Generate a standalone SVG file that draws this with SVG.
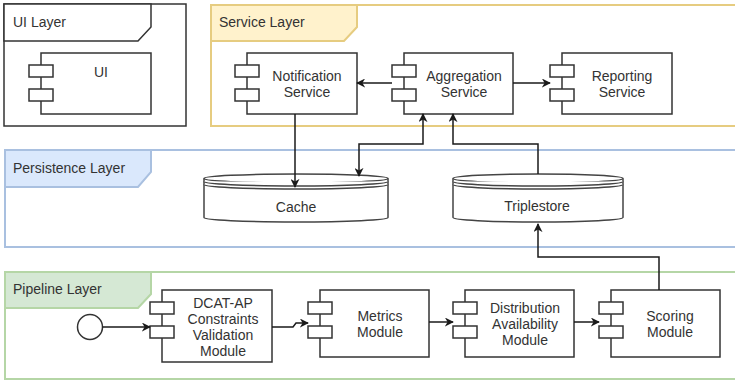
<svg xmlns="http://www.w3.org/2000/svg" width="735" height="380" viewBox="0 0 735 380">
  <style>
    text { font-family: "Liberation Sans", Arial, sans-serif; font-size: 14px; fill: #333333; }
    .mid { text-anchor: middle; }
    .comp { fill: #ffffff; stroke: #333333; stroke-width: 1.5; }
    .store { fill: #ffffff; stroke: #444444; stroke-width: 1.5; }
    .edge { fill: none; stroke: #1a1a1a; stroke-width: 1.5; }
    .ui-frame { fill: #ffffff; stroke: #333333; stroke-width: 1.5; }
    .ui-tab { fill: #ffffff; stroke: #333333; stroke-width: 1.5; }
    .svc-frame { fill: #ffffff; stroke: #e6cc80; stroke-width: 2; }
    .svc-tab { fill: #fff2cc; stroke: #e6cc80; stroke-width: 2; }
    .per-frame { fill: #ffffff; stroke: #a9c0e0; stroke-width: 2; }
    .per-tab { fill: #dae8fc; stroke: #a9c0e0; stroke-width: 2; }
    .pip-frame { fill: #ffffff; stroke: #b5d6a6; stroke-width: 2; }
    .pip-tab { fill: #d5e8d4; stroke: #b5d6a6; stroke-width: 2; }
  </style>
  <defs>
    <marker id="arrow" viewBox="0 0 10 10" refX="9" refY="5" markerWidth="9" markerHeight="9" markerUnits="userSpaceOnUse" orient="auto-start-reverse">
      <path d="M0,0 L10,5 L0,10 L3,5 Z" fill="#1a1a1a"/>
    </marker>
  </defs>

  <rect width="735" height="380" fill="#ffffff"/>

  <!-- layer containers -->
  <g id="ui-layer">
    <rect class="ui-frame" x="4" y="4" width="182" height="122"/>
    <path class="ui-tab" d="M4,4 H151 V27 L138,41 H4 Z"/>
    <text x="13" y="27">UI Layer</text>
  </g>
  <g id="service-layer">
    <rect class="svc-frame" x="211" y="5" width="540" height="121"/>
    <path class="svc-tab" d="M211,5 H357 V27 L344,41 H211 Z"/>
    <text x="219" y="27">Service Layer</text>
  </g>
  <g id="persistence-layer">
    <rect class="per-frame" x="5" y="150" width="750" height="97"/>
    <path class="per-tab" d="M5,150 H151 V172 L138,187 H5 Z"/>
    <text x="13" y="173">Persistence Layer</text>
  </g>
  <g id="pipeline-layer">
    <rect class="pip-frame" x="5" y="272" width="750" height="107"/>
    <path class="pip-tab" d="M5,272 H151 V294 L138,308 H5 Z"/>
    <text x="13" y="294">Pipeline Layer</text>
  </g>

  <!-- components -->
  <g id="ui">
    <rect class="comp" x="41" y="53" width="110" height="61"/>
    <rect class="comp" x="29" y="65" width="24" height="12"/>
    <rect class="comp" x="29" y="89" width="24" height="12"/>
    <text class="mid" x="101" y="77">UI</text>
  </g>
  <g id="notification-service">
    <rect class="comp" x="247" y="53" width="110" height="61"/>
    <rect class="comp" x="235" y="65" width="24" height="12"/>
    <rect class="comp" x="235" y="89" width="24" height="12"/>
    <text class="mid" x="307" y="81">Notification</text>
    <text class="mid" x="307" y="97">Service</text>
  </g>
  <g id="aggregation-service">
    <rect class="comp" x="404" y="53" width="109" height="61"/>
    <rect class="comp" x="392" y="65" width="24" height="12"/>
    <rect class="comp" x="392" y="89" width="24" height="12"/>
    <text class="mid" x="464" y="81">Aggregation</text>
    <text class="mid" x="464" y="97">Service</text>
  </g>
  <g id="reporting-service">
    <rect class="comp" x="562" y="53" width="110" height="61"/>
    <rect class="comp" x="550" y="65" width="24" height="12"/>
    <rect class="comp" x="550" y="89" width="24" height="12"/>
    <text class="mid" x="622" y="81">Reporting</text>
    <text class="mid" x="622" y="97">Service</text>
  </g>

  <!-- data stores -->
  <g id="cache">
    <path class="store" d="M204,178.5 V217.5 A92,4.5 0 0 0 388,217.5 V178.5"/>
    <ellipse class="store" cx="296" cy="178.5" rx="92" ry="4.5"/>
    <path class="store" fill="none" d="M204,181.5 A92,4.5 0 0 0 388,181.5 M204,184.5 A92,4.5 0 0 0 388,184.5"/>
    <text class="mid" x="296" y="212">Cache</text>
  </g>
  <g id="triplestore">
    <path class="store" d="M453,178.5 V217.5 A85,4.5 0 0 0 623,217.5 V178.5"/>
    <ellipse class="store" cx="538" cy="178.5" rx="85" ry="4.5"/>
    <path class="store" fill="none" d="M453,181.5 A85,4.5 0 0 0 623,181.5 M453,184.5 A85,4.5 0 0 0 623,184.5"/>
    <text class="mid" x="537" y="211">Triplestore</text>
  </g>

  <!-- pipeline -->
  <g id="start">
    <circle cx="90" cy="327" r="12.5" fill="#ffffff" stroke="#333333" stroke-width="1.5"/>
  </g>
  <g id="dcat-validation">
    <rect class="comp" x="162" y="290" width="110" height="72"/>
    <rect class="comp" x="150" y="302" width="24" height="12"/>
    <rect class="comp" x="150" y="326" width="24" height="12"/>
    <text class="mid" x="223" y="308">DCAT-AP</text>
    <text class="mid" x="223" y="324">Constraints</text>
    <text class="mid" x="223" y="340">Validation</text>
    <text class="mid" x="223" y="356">Module</text>
  </g>
  <g id="metrics-module">
    <rect class="comp" x="320" y="290" width="109" height="67"/>
    <rect class="comp" x="308" y="302" width="24" height="12"/>
    <rect class="comp" x="308" y="326" width="24" height="12"/>
    <text class="mid" x="380" y="321">Metrics</text>
    <text class="mid" x="380" y="337">Module</text>
  </g>
  <g id="distribution-availability">
    <rect class="comp" x="465" y="290" width="109" height="67"/>
    <rect class="comp" x="453" y="302" width="24" height="12"/>
    <rect class="comp" x="453" y="326" width="24" height="12"/>
    <text class="mid" x="525" y="313">Distribution</text>
    <text class="mid" x="525" y="329">Availability</text>
    <text class="mid" x="525" y="345">Module</text>
  </g>
  <g id="scoring-module">
    <rect class="comp" x="611" y="290" width="109" height="67"/>
    <rect class="comp" x="599" y="302" width="24" height="12"/>
    <rect class="comp" x="599" y="326" width="24" height="12"/>
    <text class="mid" x="670" y="321">Scoring</text>
    <text class="mid" x="670" y="337">Module</text>
  </g>

  <!-- connectors -->
  <g id="connectors">
    <path class="edge" d="M392,83 H357" marker-end="url(#arrow)"/>
    <path class="edge" d="M513,83 H550" marker-end="url(#arrow)"/>
    <path class="edge" d="M295,114 V187" marker-end="url(#arrow)"/>
    <path class="edge" d="M359,176 V144 H423 V114" marker-start="url(#arrow)" marker-end="url(#arrow)"/>
    <path class="edge" d="M538,174 V144 H453 V114" marker-end="url(#arrow)"/>
    <path class="edge" d="M659,290 V257 H538 V224" marker-end="url(#arrow)"/>
    <path class="edge" d="M102.5,327 H150" marker-end="url(#arrow)"/>
    <path class="edge" d="M272,327 H293 L296,323 H308" marker-end="url(#arrow)"/>
    <path class="edge" d="M429,322 H453" marker-end="url(#arrow)"/>
    <path class="edge" d="M574,322 H599" marker-end="url(#arrow)"/>
  </g>
</svg>
